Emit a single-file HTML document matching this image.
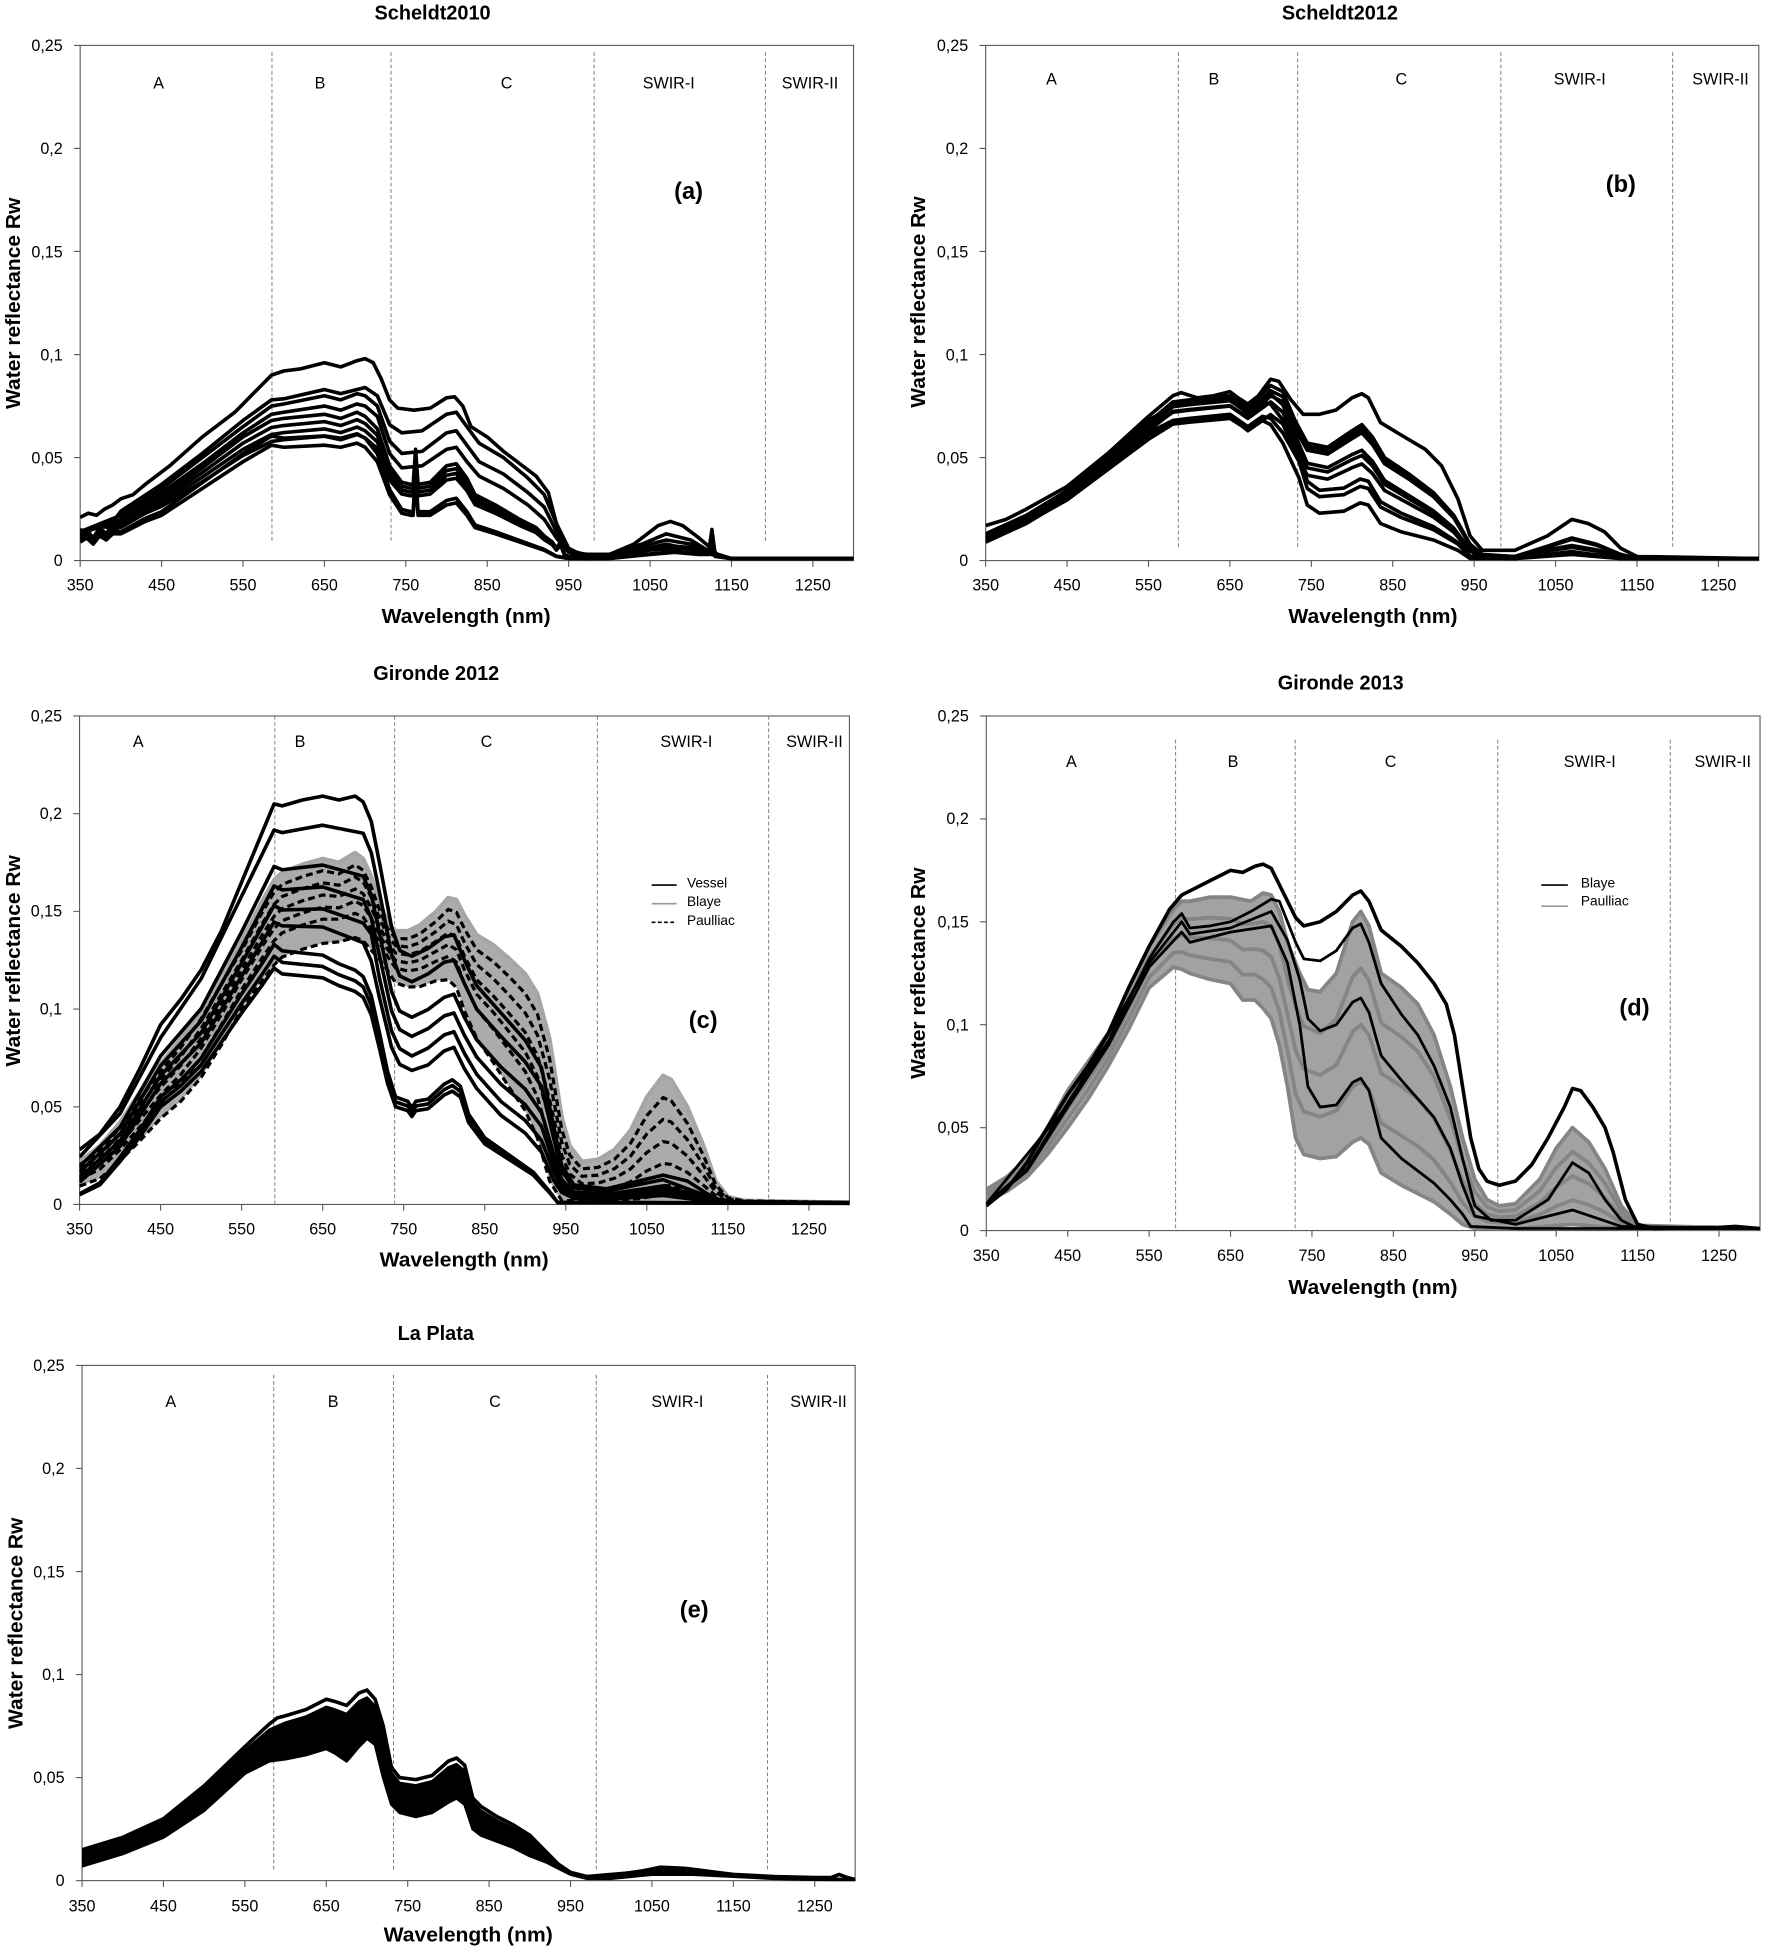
<!DOCTYPE html>
<html><head><meta charset="utf-8">
<style>
html,body{margin:0;padding:0;background:#fff;}
svg{display:block;}
text{font-family:"Liberation Sans",Arial,sans-serif;fill:#000;}
.t{font-size:13px;}
.ti{font-size:16px;font-weight:bold;}
.ax{font-size:16px;font-weight:bold;}
.pl{font-size:19px;font-weight:bold;}
.lg{font-size:11px;}
.rg{font-size:13px;}
.l{fill:none;stroke:#000;stroke-width:3.6;vector-effect:non-scaling-stroke;stroke-linejoin:round;}
.g1{fill:none;stroke:#a6a6a6;stroke-width:4;vector-effect:non-scaling-stroke;stroke-linejoin:round;}
.g2{fill:none;stroke:#858585;stroke-width:3.8;vector-effect:non-scaling-stroke;stroke-linejoin:round;}
.dl{fill:none;stroke:#000;stroke-width:3.2;stroke-dasharray:7,4;vector-effect:non-scaling-stroke;}
.th{fill:none;stroke:#000;stroke-width:2.8;vector-effect:non-scaling-stroke;stroke-linejoin:round;}
</style></head><body>
<svg width="1765" height="1954" viewBox="0 0 1420 1572" xmlns="http://www.w3.org/2000/svg" xmlns:xlink="http://www.w3.org/1999/xlink">
<rect width="1420" height="1572" fill="#fff"/>
<defs>
<clipPath id="ca"><rect x="64.5" y="36.5" width="622.2" height="415"/></clipPath>
<clipPath id="cb"><rect x="793" y="36.5" width="622" height="415"/></clipPath>
<clipPath id="cc"><rect x="64" y="576" width="619.4" height="393.5"/></clipPath>
<clipPath id="cd"><rect x="793.5" y="576" width="622.5" height="414.5"/></clipPath>
<clipPath id="ce"><rect x="66" y="1098.5" width="622" height="415"/></clipPath>
<polyline id="aLo" class="l" points="350,9 358,11 366,8 374,12 382,10 390,13 400,13 415,16 430,19 450,22 500,35 550,48 585,56 600,55 650,56 670,55 690,57 700,55 715,48 730,32 745,23 756,22 759,22 762,40 765,22 780,22 800,27 812,28 825,22 835,16 860,13 890,9 920,5 935,2 950,1 1000,1 1050,3 1080,4 1110,3 1122,3 1126,14 1130,2 1150,1 1300,1"/>
<polyline id="aC" class="l" points="350,12 358,15 366,11 374,16 382,13 390,18 400,19 415,23 430,27 450,31 500,45 550,60 585,68 600,69 650,71 670,69 690,72 700,70 715,64 730,46 745,38 756,37 759,37 762,54 765,37 780,38 800,46 812,47 825,40 835,32 860,27 890,20 910,16 920,12 930,9 935,6 940,9 945,3 950,2 960,3 970,1 1000,2 1050,6 1080,7 1110,6 1122,5 1126,14 1130,3 1150,1 1300,1"/>
<polyline id="B2" class="l" points="350,13 400,22 450,34 500,50 550,67 580,77 600,78 650,80 672,74 700,85 715,82 730,68 745,57 770,55 800,63 812,66 825,60 840,50 870,42 900,33 925,22 945,8 960,3 1000,2 1040,7 1070,11 1100,8 1130,3 1150,1 1300,1"/>
<polyline id="Bm" class="l" points="350,11 400,20 450,32 500,48 550,64 580,72 600,73 650,75 672,69 700,77 715,72 730,58 745,45 770,43 800,49 812,51 825,46 840,37 870,30 900,23 925,15 945,5 960,2 1000,1 1040,5 1070,7 1100,5 1130,2 1150,1 1300,1"/>
<polyline id="Bl2" class="l" points="350,10 400,19 450,31 500,47 550,62 580,68 600,69 650,71 672,65 690,70 700,69 715,62 735,48 745,35 760,31 790,32 810,36 820,35 835,26 860,21 900,15 930,8 945,2 1000,1 1070,4 1130,1 1300,1"/>
<polyline id="cLo" class="l" points="350,5 375,10 400,22 425,35 450,50 475,58 500,68 525,83 550,98 575,112 590,121 600,118 625,117 650,116 670,112 690,109 700,106 710,97 720,80 730,62 740,50 755,48 760,45 765,48 780,49 800,56 810,58 820,55 830,42 850,31 880,23 910,15 930,6 940,1 1300,0.5"/>
</defs>

<!-- frames -->
<g fill="none" stroke="#5a5a5a" stroke-width="0.9">
<rect x="64.5" y="36.5" width="622.2" height="414.5"/>
<rect x="793" y="36.5" width="622" height="414.5"/>
<rect x="64" y="576" width="619.4" height="393"/>
<rect x="793.5" y="576" width="622.5" height="414"/>
<rect x="66" y="1098.5" width="622" height="414.5"/>
</g>

<!-- ticks -->
<g fill="none" stroke="#5a5a5a" stroke-width="0.9">
<path d="M59.5 451H64.5M59.5 368.1H64.5M59.5 285.2H64.5M59.5 202.3H64.5M59.5 119.4H64.5M59.5 36.5H64.5M64.5 451V456M130 451V456M195.5 451V456M261 451V456M326.5 451V456M392 451V456M457.5 451V456M523 451V456M588.5 451V456M654 451V456"/>
<path d="M788 451H793M788 368.1H793M788 285.2H793M788 202.3H793M788 119.4H793M788 36.5H793M793 451V456M858.5 451V456M924 451V456M989.5 451V456M1055 451V456M1120.5 451V456M1186 451V456M1251.5 451V456M1317 451V456M1382.5 451V456"/>
<path d="M59 969H64M59 890.4H64M59 811.8H64M59 733.2H64M59 654.6H64M59 576H64M64 969V974M129.2 969V974M194.4 969V974M259.6 969V974M324.8 969V974M390 969V974M455.2 969V974M520.4 969V974M585.6 969V974M650.8 969V974"/>
<path d="M788.5 990H793.5M788.5 907.2H793.5M788.5 824.4H793.5M788.5 741.6H793.5M788.5 658.8H793.5M788.5 576H793.5M793.5 990V995M859 990V995M924.5 990V995M990 990V995M1055.5 990V995M1121 990V995M1186.5 990V995M1252 990V995M1317.5 990V995M1383 990V995"/>
<path d="M61 1513H66M61 1430.1H66M61 1347.2H66M61 1264.3H66M61 1181.4H66M61 1098.5H66M66 1513V1518M131.5 1513V1518M197 1513V1518M262.5 1513V1518M328 1513V1518M393.5 1513V1518M459 1513V1518M524.5 1513V1518M590 1513V1518M655.5 1513V1518"/>
</g>

<!-- region separators -->
<g stroke="#7f7f7f" stroke-width="0.8" stroke-dasharray="3,2">
<line x1="218.8" y1="42" x2="218.8" y2="437"/><line x1="314.6" y1="42" x2="314.6" y2="437"/><line x1="478" y1="42" x2="478" y2="437"/><line x1="615.8" y1="42" x2="615.8" y2="437"/>
<line x1="948" y1="42" x2="948" y2="441"/><line x1="1044" y1="42" x2="1044" y2="441"/><line x1="1207.5" y1="42" x2="1207.5" y2="441"/><line x1="1345.7" y1="42" x2="1345.7" y2="441"/>
<line x1="221.1" y1="576" x2="221.1" y2="969"/><line x1="317.5" y1="576" x2="317.5" y2="969"/><line x1="480.6" y1="576" x2="480.6" y2="969"/><line x1="618.4" y1="576" x2="618.4" y2="969"/>
<line x1="945.8" y1="595" x2="945.8" y2="990"/><line x1="1042" y1="595" x2="1042" y2="990"/><line x1="1205" y1="595" x2="1205" y2="990"/><line x1="1343.8" y1="595" x2="1343.8" y2="990"/>
<line x1="220.2" y1="1106" x2="220.2" y2="1504"/><line x1="316.6" y1="1106" x2="316.6" y2="1504"/><line x1="479.7" y1="1106" x2="479.7" y2="1504"/><line x1="617.5" y1="1106" x2="617.5" y2="1504"/>
</g>

<!-- Panel a curves -->
<g clip-path="url(#ca)"><g transform="translate(-164.75,451) scale(0.655,-1.658)">
<use xlink:href="#aLo" href="#aLo"/>
<use xlink:href="#aLo" href="#aLo" transform="scale(1,1.08)"/>
<use xlink:href="#aC" href="#aC" transform="scale(1,0.85)"/>
<use xlink:href="#aC" href="#aC" transform="scale(1,0.9)"/>
<use xlink:href="#aC" href="#aC" transform="scale(1,0.95)"/>
<use xlink:href="#aC" href="#aC"/>
<polyline class="l" points="350,13 400,20 450,33 500,47 550,62 585,71 600,72 650,75 670,73 690,76 700,75 715,70 730,52 745,45 770,46 800,54 812,55 825,48 840,41 870,35 900,27 920,20 935,11 950,4 1000,2 1070,8 1125,3 1150,1 1300,1"/>
<polyline class="l" points="350,14 400,22 450,35 500,50 550,65 585,75 600,76 650,80 670,78 690,81 700,80 715,75 730,58 745,52 770,53 800,62 812,63 825,56 840,48 870,42 900,33 920,26 935,14 950,5 970,3 1000,3 1040,7 1070,10 1100,8 1125,4 1150,1 1300,1"/>
<polyline class="l" points="350,15 360,14 370,17 385,16 400,24 450,37 500,52 550,68 585,78 600,78.5 650,83 670,81 700,84 715,80 730,66 745,62 770,63 800,71 812,72 825,65 840,57 870,50 900,40 920,32 935,18 950,6 965,3 1000,3 1040,8 1070,13 1100,10 1125,4 1150,1 1300,1"/>
<polyline class="l" points="350,21 360,23 370,22 380,25 390,27 400,30 415,32 430,37 460,46 500,60 540,72 570,84 585,90 600,92 620,93 650,96 670,94 690,97 700,98 710,96 720,88 730,78 740,74 760,73 780,74 800,79 810,79.5 820,75 830,65 850,60 870,53 890,47 910,41 925,33 935,18 945,8 955,3 970,2 1000,3 1030,8 1060,17 1075,19 1090,17 1110,11 1125,6 1135,2 1150,1 1300,1"/>
</g></g>

<!-- Panel b curves -->
<g clip-path="url(#cb)"><g transform="translate(563.75,451) scale(0.655,-1.658)">
<polyline class="l" points="350,9 400,18 450,30 500,46 550,61 580,67 600,68 650,70 672,63 690,68 700,66 715,57 735,40 745,27 760,23 790,24 810,28 820,27 835,18 860,14 900,10 930,5 945,1 1000,1 1070,3 1130,1 1300,1"/>
<use xlink:href="#Bl2" href="#Bl2"/>
<use xlink:href="#Bl2" href="#Bl2" transform="scale(1,1.1)"/>
<use xlink:href="#Bm" href="#Bm" transform="scale(1,0.92)"/>
<use xlink:href="#Bm" href="#Bm"/>
<use xlink:href="#Bm" href="#Bm" transform="scale(1,1.05)"/>
<use xlink:href="#B2" href="#B2" transform="scale(1,0.94)"/>
<use xlink:href="#B2" href="#B2" transform="scale(1,0.97)"/>
<use xlink:href="#B2" href="#B2"/>
<polyline class="l" points="350,17 375,20 400,25 450,36 500,52 550,70 580,80 590,81.5 610,79 630,80 650,82 660,79 672,76 685,80 700,88 710,87 725,78 740,71 760,71 780,73 800,79 812,81 820,79 835,67 860,61 890,54 910,46 930,30 945,12 960,5 1000,5 1040,12 1070,20 1090,18 1110,14 1130,6 1150,2 1300,1"/>
</g></g>

<!-- Panel c curves -->
<g clip-path="url(#cc)"><g transform="translate(-164.2,969) scale(0.652,-1.572)">
<polygon fill="#ababab" stroke="none" points="350,22 375,30 400,42 425,58 450,72 475,85 500,100 525,118 550,135 575,155 590,166 600,170 625,174 650,177 670,175 690,180 700,177 710,168 720,155 730,145 740,140 755,140 770,143 790,150 805,157 815,156 825,148 840,138 860,133 880,126 900,118 915,108 930,85 945,45 955,30 970,22 990,23 1010,28 1030,38 1050,55 1070,66 1080,64 1100,50 1120,30 1135,12 1150,4 1170,2 1300,1 1300,1 1150,1 1100,1 1000,1 945,1 930,12 915,34 900,48 880,60 860,73 840,85 825,99 815,111 805,115 790,114.5 770,111.5 755,111.3 740,113.4 730,119.8 720,125.6 710,130 700,135 690,136.6 670,134.4 650,133.6 625,130.6 600,126.6 590,122.6 575,114.4 550,100 525,81.6 500,65 475,52.8 450,44 425,32.8 400,22.4 375,13.2 350,9.4"/>
<polyline class="g1" points="350,22 375,30 400,42 425,58 450,72 475,85 500,100 525,118 550,135 575,155 590,166 600,170 625,174 650,177 670,175 690,180 700,177 710,168 720,155 730,145 740,140 755,140 770,143 790,150 805,157 815,156 825,148 840,138 860,133 880,126 900,118 915,108 930,85 945,45 955,30 970,22 990,23 1010,28 1030,38 1050,55 1070,66 1080,64 1100,50 1120,30 1135,12 1150,4 1170,2 1300,1"/>
<polyline class="dl" points="350,9.4 375,13.2 400,22.4 425,32.8 450,44 475,52.8 500,65 525,81.6 550,100 575,114.4 590,122.6 600,126.6 625,130.6 650,133.6 670,134.4 690,136.6 700,135 710,130 720,125.6 730,119.8 740,113.4 755,111.3 770,111.5 790,114.5 805,115 815,111 825,99 840,85 860,73 880,60 900,48 915,34 930,12 945,2 960,2 1000,2 1040,3 1070,5 1100,4 1130,2 1150,1 1300,1"/>
<polyline class="dl" points="350,13 375,18 400,28 425,40 450,52 475,62 500,75 525,92 550,110 575,126 590,135 600,139 625,143 650,146 670,146 690,149 700,147 710,141 720,134 730,127 740,121 755,119.5 770,120.5 790,124.5 805,127 815,124 825,113 840,100 860,90 880,79 900,68 915,55 930,33 945,12 955,6 970,3 990,3 1010,3.7 1030,5 1050,7.7 1070,9.7 1080,9.6 1100,8 1120,4.7 1135,2.5 1150,1 1300,1"/>
<polyline class="dl" points="350,14.8 375,20.4 400,30.8 425,43.6 450,56 475,66.6 500,80 525,97.2 550,115 575,131.8 590,141.2 600,145.2 625,149.2 650,152.2 670,151.8 690,155.2 700,153 710,146.4 720,138.2 730,130.6 740,124.8 755,123.6 770,125 790,129.6 805,133 815,130.4 825,120 840,107.6 860,98.6 880,88.4 900,78 915,65.6 930,43.4 945,18.6 955,10.8 970,6.8 990,7 1010,8.6 1030,11.6 1050,17.2 1070,21 1080,20.5 1100,16.4 1120,9.8 1135,4.4 1150,1.6 1300,1"/>
<polyline class="dl" points="350,16.6 375,22.8 400,33.6 425,47.2 450,60 475,71.2 500,85 525,102.4 550,120 575,137.6 590,147.4 600,151.4 625,155.4 650,158.4 670,157.6 690,161.4 700,159 710,151.8 720,142.4 730,134.2 740,128.6 755,127.7 770,129.5 790,134.7 805,139 815,136.8 825,127 840,115 860,107 880,97.8 900,88 915,76.2 930,53.8 945,25.2 955,15.6 970,10.6 990,11 1010,13.4 1030,18.2 1050,26.6 1070,32.2 1080,31.4 1100,24.8 1120,14.8 1135,6.3 1150,2.2 1170,1.4 1300,1"/>
<polyline class="dl" points="350,18.4 375,25.2 400,36.4 425,50.8 450,64 475,75.8 500,90 525,107.6 550,125 575,143.4 590,153.6 600,157.6 625,161.6 650,164.6 670,163.4 690,167.6 700,165 710,157.2 720,146.6 730,137.8 740,132.4 755,131.8 770,134 790,139.8 805,145 815,143.2 825,134 840,122.8 860,115.8 880,107.2 900,98 915,86.8 930,64.2 945,31.8 955,20.4 970,14.4 990,15 1010,18.3 1030,24.8 1050,36.1 1070,43.5 1080,42.2 1100,33.2 1120,19.9 1135,8.2 1150,2.8 1170,1.6 1300,1"/>
<polyline class="dl" points="350,20.2 375,27.6 400,39.2 425,54.4 450,68 475,80.4 500,95 525,112.8 550,130 575,149.2 590,159.8 600,163.8 625,167.8 650,170.8 670,169.2 690,173.8 700,171 710,162.6 720,150.8 730,141.4 740,136.2 755,135.9 770,138.5 790,144.9 805,151 815,149.6 825,141 840,130.4 860,124.4 880,116.6 900,108 915,97.4 930,74.6 945,38.4 955,25.2 970,18.2 990,19 1010,23.1 1030,31.4 1050,45.5 1070,54.7 1080,53.1 1100,41.6 1120,24.9 1135,10.1 1150,3.4 1170,1.8 1300,1"/>
<use xlink:href="#cLo" href="#cLo"/>
<use xlink:href="#cLo" href="#cLo" transform="scale(1,1.05)"/>
<use xlink:href="#cLo" href="#cLo" transform="scale(1,1.1)"/>
<polyline class="l" points="350,11.4 400,29.8 450,61.8 500,82.6 550,116.8 590,144.5 600,142.6 650,142 700,134 710,124.6 720,106 735,80.4 745,71.7 760,68.6 780,71.4 800,78.6 812,80.4 825,69.4 840,59.4 870,45.6 900,36.5 920,26.8 935,12.4 945,6.2 960,3.2 1000,2.6 1070,4.6 1130,1.5 1300,0.6"/>
<polyline class="l" points="350,13.7 400,32.6 450,66 500,87.8 550,123.5 590,153 600,150.7 650,151.3 700,144 710,138.4 720,116 735,88.7 745,79.8 760,76 780,80 800,86.8 812,88.4 825,77.3 840,66.7 870,52.7 900,43 920,32.8 935,17 945,8.1 960,4.1 1000,3.3 1070,6 1130,1.8 1150,0.6 1300,0.6"/>
<polyline class="l" points="350,16.5 400,36 450,71 500,94 550,131.5 590,163 600,161 650,162.5 700,156 710,146.5 720,127.5 735,99 745,89.5 760,86 780,90 800,96.5 812,98 825,86.5 840,75.5 870,61.5 900,51 920,40 935,21.5 945,10.4 960,5.3 1000,4.3 1070,7.8 1130,2.3 1150,0.7 1300,0.7"/>
<polyline class="l" points="350,19.3 400,39.6 450,76 500,100.2 550,139.5 590,173 600,171.3 650,173.7 700,168 710,158.4 720,139 735,109 745,99 760,95.8 780,99.8 800,106 812,107.6 825,95.7 840,84.3 870,70.3 900,59 920,47 935,26 945,12.7 960,6.4 1000,5.1 1070,9.5 1130,2.7 1150,0.8 1300,0.8"/>
<polyline class="l" points="350,24.3 400,46.5 450,85.3 500,115.5 550,157.8 590,191.6 600,190.3 650,194.1 700,190 710,180 720,160 735,128 745,117 760,114 780,118 800,124 812,125 825,113 840,100 870,86 900,73 920,60.4 935,34 945,17 960,8.5 1000,6.8 1070,12.7 1130,3.4 1150,0.9 1300,0.9"/>
<polyline class="l" points="350,28 375,36 400,50 425,70 450,92 475,105 500,120 525,140 550,165 575,190 590,205 600,204 625,207 650,209 670,207 690,209 700,206 710,196 720,175 735,142 745,130 760,127 780,131 800,137 812,138 825,125 840,112 870,98 900,84 920,70 935,40 945,20 960,10 1000,8 1040,12 1070,15 1100,12 1130,4 1150,1 1300,1"/>
</g></g>

<!-- Panel d curves -->
<g clip-path="url(#cd)"><g transform="translate(564.25,990) scale(0.655,-1.656)">
<polygon fill="#a2a2a2" stroke="none" points="350,20 375,26 400,35 425,50 450,68 475,82 500,96 525,118 550,138 580,156 590,160 600,160 625,162 650,162 675,160 690,164 700,163 710,155 720,140 735,125 745,117 760,116 780,125 800,150 810,155 820,148 835,125 860,118 880,110 900,95 920,70 935,45 950,25 965,15 980,12 1000,13 1030,25 1050,40 1070,50 1090,43 1110,30 1130,12 1150,3 1170,1 1300,1 1300,1 1130,1 1070,3 1000,1 950,1 935,3 920,8 900,14 860,22 835,28 820,42 810,45 800,43 780,36 760,35 740,37 730,45 720,70 710,90 700,103 690,108 680,112 665,112 650,120 625,122 600,125 590,127 580,128 550,118 525,98 500,80 475,64 450,50 425,37 400,26 375,19 350,14"/>
<polyline class="g2" points="350,14 375,19 400,26 425,37 450,50 475,64 500,80 525,98 550,118 580,128 590,127 600,125 625,122 650,120 665,112 680,112 690,108 700,103 710,90 720,70 730,45 740,37 760,35 780,36 800,43 810,45 820,42 835,28 860,22 900,14 920,8 935,3 950,1 1000,1 1070,3 1130,1 1300,1"/>
<polyline class="g2" points="350,15.5 375,20.8 400,28.3 425,40.3 450,54.5 475,68.5 500,84 525,103 550,123 580,135 590,135.3 600,133.8 625,132 650,130.5 665,124.3 680,124.4 690,122 700,118 710,106.3 720,87.5 730,66.3 740,57.8 760,55.3 780,58.3 800,69.8 810,72.5 820,68.5 835,52.3 860,46 880,41 900,34.3 920,23.5 935,13.5 950,7 965,4.5 980,3.8 1000,4 1030,7.8 1050,11.8 1070,14.8 1090,12.5 1110,8.8 1130,3.8 1150,1.5 1300,1"/>
<polyline class="g2" points="350,17 375,22.5 400,30.5 425,43.5 450,59 475,73 500,88 525,108 550,128 580,142 590,143.5 600,142.5 625,142 650,141 665,136.5 680,136.8 690,136 700,133 710,122.5 720,105 730,87.5 740,78.5 760,75.5 780,80.5 800,96.5 810,100 820,95 835,76.5 860,70 880,64 900,54.5 920,39 935,24 950,13 965,8 980,6.5 1000,7 1030,13.5 1050,21.2 1070,26.5 1090,22.7 1110,15.9 1130,6.5 1150,2 1300,1"/>
<polyline class="g2" points="350,18.5 375,24.3 400,32.8 425,46.8 450,63.5 475,77.5 500,92 525,113 550,133 580,149 590,151.8 600,151.3 625,152 650,151.5 665,148.8 680,149.2 690,150 700,148 710,138.8 720,122.5 730,108.8 740,99.3 760,95.8 780,102.8 800,123.3 810,127.5 820,121.5 835,100.8 860,94 880,87 900,74.8 920,54.5 935,34.5 950,19 965,11.5 980,9.3 1000,10 1030,19.3 1050,30.6 1070,38.3 1090,32.8 1110,22.9 1130,9.3 1150,2.5 1300,1"/>
<polyline class="g2" points="350,20 375,26 400,35 425,50 450,68 475,82 500,96 525,118 550,138 580,156 590,160 600,160 625,162 650,162 675,160 690,164 700,163 710,155 720,140 735,125 745,117 760,116 780,125 800,150 810,155 820,148 835,125 860,118 880,110 900,95 920,70 935,45 950,25 965,15 980,12 1000,13 1030,25 1050,40 1070,50 1090,43 1110,30 1130,12 1150,3 1170,1 1300,1"/>
<polyline class="th" points="350,13 400,29 450,60 500,90 550,128 590,145 600,140 650,145 700,148 720,130 735,100 745,70 760,60 780,61 800,72 810,74 820,68 835,45 860,35 900,23 920,15 935,8 945,2 1000,1 1300,1"/>
<polyline class="th" points="350,13 450,61 550,130 590,150 600,144 650,147 700,155 720,141 735,122 745,103 760,97 780,100 800,111 810,113 820,106 835,85 860,73 900,55 920,40 935,22 950,7 1000,3 1070,10 1130,2 1300,1"/>
<polyline class="th" points="350,13 400,30 450,62 500,92 550,132 580,150 590,154 600,147 625,148 650,150 675,155 700,161 710,160 720,150 730,140 740,132 760,131 780,136 800,147 810,149 820,140 835,120 860,105 880,95 900,80 920,60 935,35 950,12 970,5 1000,5 1040,15 1070,33 1090,28 1110,15 1130,5 1150,1 1300,1"/>
<polyline class="l" points="350,12 375,20 400,33 425,50 450,66 475,80 500,96 525,118 550,138 575,156 590,163 600,165 625,170 650,175 665,174 680,177 690,178 700,176 710,168 720,160 730,152 740,148 760,150 780,155 800,163 810,165 820,160 835,146 860,138 880,130 900,120 915,110 925,95 935,70 945,45 955,30 965,24 980,22 1000,24 1020,32 1040,45 1060,60 1070,69 1080,68 1095,60 1110,50 1120,38 1135,15 1150,3 1170,1 1250,1.5 1270,2 1300,1"/>
</g></g>

<!-- Panel e curves -->
<g clip-path="url(#ce)"><g transform="translate(-163.25,1513) scale(0.655,-1.658)">
<polygon fill="#000" stroke="#000" stroke-width="3" style="vector-effect:non-scaling-stroke;stroke-linejoin:round" points="350,13.7 400,19.7 450,28.6 500,44.1 550,62.9 580,73.1 600,76.6 625,79.5 650,84.2 660,83 675,80.7 690,86.8 700,88.7 710,84.5 720,71 730,52.1 740,47.3 760,46.1 780,48.1 800,54.8 810,56.4 820,53 830,37.6 840,33.8 860,29.1 880,25.2 900,20.4 920,13.2 935,7.7 950,3.8 970,1.8 1000,2.7 1050,5.5 1100,5.1 1150,2.8 1200,1.8 1300,0.5 1300,0 1200,1 1150,2 1100,3 1050,3 1000,1 970,1 950,3 935,6 920,9 900,12 880,16 860,19 840,22 830,25 820,37 810,40 800,38 780,33 760,31 740,33 730,37 720,50 710,66 700,69 690,65 675,58 660,62 650,64 625,61 600,59 580,58 550,52 500,34 450,21 400,13 350,7"/>
<polyline class="l" points="350,15 400,21 450,30 500,46 550,65 580,76 590,79 600,80 625,83 650,88 660,87 675,85 690,91 700,92.5 710,88 720,75 730,55 740,50 760,49 780,51 800,58 810,59.5 820,56 830,40 840,36 860,31 880,27 900,22 920,14 935,8 950,4 970,2 1000,3 1030,4 1060,6.5 1090,6 1110,5 1130,4 1150,3 1200,2 1250,1.5 1270,1.5 1280,3 1290,1.5 1300,0.5"/>
</g></g>

<!-- titles -->
<text class="ti" x="348" y="15.5" text-anchor="middle">Scheldt2010</text>
<text class="ti" x="1078" y="15.5" text-anchor="middle">Scheldt2012</text>
<text class="ti" x="351" y="547" text-anchor="middle">Gironde 2012</text>
<text class="ti" x="1078.7" y="554.5" text-anchor="middle">Gironde 2013</text>
<text class="ti" x="350.6" y="1078" text-anchor="middle">La Plata</text>

<!-- axis titles -->
<text class="ax" x="375" y="501" text-anchor="middle" textLength="136" lengthAdjust="spacingAndGlyphs">Wavelength (nm)</text>
<text class="ax" x="1104.6" y="501" text-anchor="middle" textLength="136" lengthAdjust="spacingAndGlyphs">Wavelength (nm)</text>
<text class="ax" x="373.4" y="1019" text-anchor="middle" textLength="136" lengthAdjust="spacingAndGlyphs">Wavelength (nm)</text>
<text class="ax" x="1104.6" y="1041" text-anchor="middle" textLength="136" lengthAdjust="spacingAndGlyphs">Wavelength (nm)</text>
<text class="ax" x="376.7" y="1562" text-anchor="middle" textLength="136" lengthAdjust="spacingAndGlyphs">Wavelength (nm)</text>

<text class="ax" transform="translate(16,244) rotate(-90)" text-anchor="middle" textLength="170" lengthAdjust="spacingAndGlyphs">Water reflectance Rw</text>
<text class="ax" transform="translate(744,243) rotate(-90)" text-anchor="middle" textLength="170" lengthAdjust="spacingAndGlyphs">Water reflectance Rw</text>
<text class="ax" transform="translate(16,773) rotate(-90)" text-anchor="middle" textLength="170" lengthAdjust="spacingAndGlyphs">Water reflectance Rw</text>
<text class="ax" transform="translate(744,783) rotate(-90)" text-anchor="middle" textLength="170" lengthAdjust="spacingAndGlyphs">Water reflectance Rw</text>
<text class="ax" transform="translate(18,1306) rotate(-90)" text-anchor="middle" textLength="170" lengthAdjust="spacingAndGlyphs">Water reflectance Rw</text>

<!-- y tick labels -->
<g class="t" text-anchor="end">
<text x="50.5" y="41">0,25</text><text x="50.5" y="124">0,2</text><text x="50.5" y="207">0,15</text><text x="50.5" y="290">0,1</text><text x="50.5" y="373">0,05</text><text x="50.5" y="455.5">0</text>
<text x="779" y="41">0,25</text><text x="779" y="124">0,2</text><text x="779" y="207">0,15</text><text x="779" y="290">0,1</text><text x="779" y="373">0,05</text><text x="779" y="455.5">0</text>
<text x="50" y="580.5">0,25</text><text x="50" y="659">0,2</text><text x="50" y="737.5">0,15</text><text x="50" y="816">0,1</text><text x="50" y="895">0,05</text><text x="50" y="973.5">0</text>
<text x="779.5" y="580.5">0,25</text><text x="779.5" y="663">0,2</text><text x="779.5" y="746">0,15</text><text x="779.5" y="829">0,1</text><text x="779.5" y="911.5">0,05</text><text x="779.5" y="994.5">0</text>
<text x="52" y="1103">0,25</text><text x="52" y="1186">0,2</text><text x="52" y="1269">0,15</text><text x="52" y="1351.5">0,1</text><text x="52" y="1434.5">0,05</text><text x="52" y="1517.5">0</text>
</g>

<!-- x tick labels -->
<g class="t" text-anchor="middle">
<text x="64.5" y="475">350</text><text x="130" y="475">450</text><text x="195.5" y="475">550</text><text x="261" y="475">650</text><text x="326.5" y="475">750</text><text x="392" y="475">850</text><text x="457.5" y="475">950</text><text x="523" y="475">1050</text><text x="588.5" y="475">1150</text><text x="654" y="475">1250</text>
<text x="793" y="475">350</text><text x="858.5" y="475">450</text><text x="924" y="475">550</text><text x="989.5" y="475">650</text><text x="1055" y="475">750</text><text x="1120.5" y="475">850</text><text x="1186" y="475">950</text><text x="1251.5" y="475">1050</text><text x="1317" y="475">1150</text><text x="1382.5" y="475">1250</text>
<text x="64" y="993">350</text><text x="129.2" y="993">450</text><text x="194.4" y="993">550</text><text x="259.6" y="993">650</text><text x="324.8" y="993">750</text><text x="390" y="993">850</text><text x="455.2" y="993">950</text><text x="520.4" y="993">1050</text><text x="585.6" y="993">1150</text><text x="650.8" y="993">1250</text>
<text x="793.5" y="1014.5">350</text><text x="859" y="1014.5">450</text><text x="924.5" y="1014.5">550</text><text x="990" y="1014.5">650</text><text x="1055.5" y="1014.5">750</text><text x="1121" y="1014.5">850</text><text x="1186.5" y="1014.5">950</text><text x="1252" y="1014.5">1050</text><text x="1317.5" y="1014.5">1150</text><text x="1383" y="1014.5">1250</text>
<text x="66" y="1538">350</text><text x="131.5" y="1538">450</text><text x="197" y="1538">550</text><text x="262.5" y="1538">650</text><text x="328" y="1538">750</text><text x="393.5" y="1538">850</text><text x="459" y="1538">950</text><text x="524.5" y="1538">1050</text><text x="590" y="1538">1150</text><text x="655.5" y="1538">1250</text>
</g>

<!-- region labels -->
<g class="rg" text-anchor="middle">
<text x="127.6" y="71">A</text><text x="257.5" y="71">B</text><text x="407.6" y="71">C</text><text x="538" y="71">SWIR-I</text><text x="651.7" y="71">SWIR-II</text>
<text x="846" y="68">A</text><text x="976.6" y="68">B</text><text x="1127.4" y="68">C</text><text x="1271" y="68">SWIR-I</text><text x="1384.2" y="68">SWIR-II</text>
<text x="111.2" y="601">A</text><text x="241.4" y="601">B</text><text x="391.4" y="601">C</text><text x="552.2" y="601">SWIR-I</text><text x="655.3" y="601">SWIR-II</text>
<text x="862" y="617">A</text><text x="992" y="617">B</text><text x="1118.8" y="617">C</text><text x="1279" y="617">SWIR-I</text><text x="1386" y="617">SWIR-II</text>
<text x="137.4" y="1132">A</text><text x="268" y="1132">B</text><text x="398.2" y="1132">C</text><text x="545" y="1132">SWIR-I</text><text x="658.5" y="1132">SWIR-II</text>
</g>

<!-- panel letters -->
<g class="pl" text-anchor="middle">
<text x="554" y="160">(a)</text>
<text x="1304" y="154.5">(b)</text>
<text x="565.7" y="827">(c)</text>
<text x="1315" y="817">(d)</text>
<text x="558.5" y="1301.5">(e)</text>
</g>

<!-- legends -->
<line x1="524.3" y1="712" x2="544.4" y2="712" stroke="#000" stroke-width="1.3"/>
<line x1="524.3" y1="727" x2="544.4" y2="727" stroke="#999" stroke-width="1.3"/>
<line x1="524.3" y1="742" x2="544.4" y2="742" stroke="#000" stroke-width="1.3" stroke-dasharray="3,2"/>
<text class="lg" x="552.7" y="714">Vessel</text>
<text class="lg" x="552.7" y="729">Blaye</text>
<text class="lg" x="552.7" y="744">Paulliac</text>
<line x1="1240" y1="712" x2="1261.4" y2="712" stroke="#000" stroke-width="1.3"/>
<line x1="1240" y1="729" x2="1261.4" y2="729" stroke="#999" stroke-width="1.3"/>
<text class="lg" x="1271.9" y="714">Blaye</text>
<text class="lg" x="1271.9" y="728.5">Paulliac</text>
</svg>
</body></html>
